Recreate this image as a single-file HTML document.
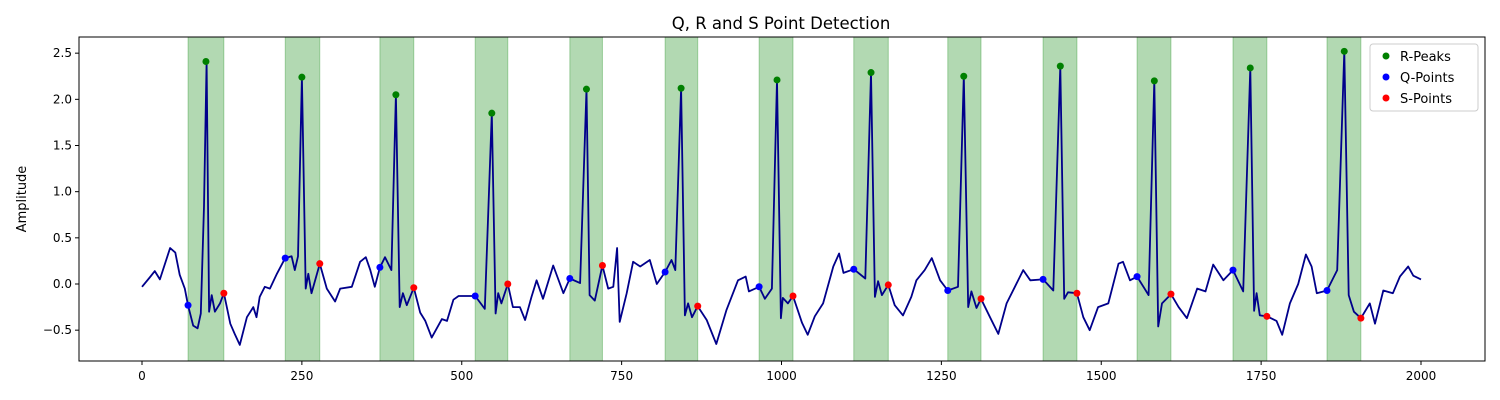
<!DOCTYPE html>
<html><head><meta charset="utf-8"><style>
body{margin:0;background:#fff;}
svg{display:block;font-family:"DejaVu Sans","Liberation Sans",sans-serif;}
</style></head><body>
<svg id="chart" width="1500" height="400" viewBox="0 0 1500 400">
<rect width="1500" height="400" fill="#fff"/>
<text x="781" y="29" text-anchor="middle" font-size="16.5">Q, R and S Point Detection</text>
<g id="bands"></g>
<g id="series"></g>
<rect x="79" y="37" width="1406" height="324" fill="none" stroke="#000" stroke-width="1"/>
<g id="xaxis"></g>
<g id="yaxis"></g>
<text transform="translate(26,199) rotate(-90)" text-anchor="middle" font-size="13">Amplitude</text>
<g>
<rect x="1370" y="44" width="108" height="67" rx="3" fill="#fff" fill-opacity="0.8" stroke="#ccc"/>
<circle cx="1386" cy="56" r="3.5" fill="green"/>
<text x="1400" y="61" font-size="13">R-Peaks</text>
<circle cx="1386" cy="77" r="3.5" fill="blue"/>
<text x="1400" y="82" font-size="13">Q-Points</text>
<circle cx="1386" cy="98" r="3.5" fill="red"/>
<text x="1400" y="103" font-size="13">S-Points</text>
</g>
</svg>
<script>
const xTicks=[0,250,500,750,1000,1250,1500,1750,2000];
const yTicks=[-0.5,0,0.5,1,1.5,2,2.5];
const yTickLabels=["−0.5","0.0","0.5","1.0","1.5","2.0","2.5"];
const rX=[100,250,397,547,695,843,993,1140,1285,1436,1583,1733,1880];
const rY=[2.41,2.24,2.05,1.85,2.11,2.12,2.21,2.29,2.25,2.36,2.2,2.34,2.52];
const qX=[72,224,372,521,669,818,965,1113,1260,1409,1556,1706,1853];
const qY=[-0.23,0.28,0.18,-0.13,0.06,0.13,-0.03,0.16,-0.07,0.05,0.08,0.15,-0.07];
const sX=[128,278,425,572,720,869,1018,1167,1312,1462,1609,1759,1906];
const sY=[-0.1,0.22,-0.04,0.0,0.2,-0.24,-0.13,-0.01,-0.16,-0.1,-0.11,-0.35,-0.37];
const sigX=[0,12,20,28,44,52,59,67,72,80,87,92,97,101,105,109,114,122,128,138,145,153,164,174,179,184,192,200,211,224,234,239,244,250,256,260,265,278,289,302,310,328,341,350,357,364,372,380,390,397,403,408,414,425,435,443,453,469,477,487,495,510,521,536,547,553,557,562,572,580,591,599,609,617,627,643,659,669,685,695,700,708,720,729,737,743,747,758,768,779,794,805,818,828,834,843,849,854,860,869,883,898,914,932,944,949,965,974,985,993,999,1002,1010,1018,1032,1041,1052,1065,1081,1090,1097,1113,1131,1140,1146,1151,1157,1167,1177,1190,1203,1211,1224,1235,1248,1260,1276,1285,1292,1297,1305,1312,1326,1339,1352,1365,1378,1389,1409,1425,1436,1442,1448,1462,1472,1482,1495,1511,1527,1534,1545,1556,1574,1583,1589,1595,1609,1621,1634,1650,1663,1675,1691,1706,1722,1733,1739,1743,1748,1759,1774,1783,1795,1808,1820,1829,1837,1853,1869,1880,1887,1895,1906,1920,1928,1941,1956,1967,1980,1988,2000];
const sigY=[-0.03,0.07,0.14,0.05,0.39,0.34,0.1,-0.05,-0.23,-0.45,-0.48,-0.32,0.84,2.41,-0.3,-0.12,-0.3,-0.21,-0.1,-0.43,-0.54,-0.66,-0.36,-0.25,-0.36,-0.14,-0.03,-0.05,0.11,0.28,0.3,0.15,0.3,2.24,-0.05,0.11,-0.1,0.22,-0.05,-0.19,-0.05,-0.03,0.24,0.29,0.15,-0.03,0.18,0.29,0.15,2.05,-0.25,-0.1,-0.23,-0.04,-0.31,-0.4,-0.58,-0.38,-0.4,-0.17,-0.13,-0.13,-0.13,-0.27,1.85,-0.32,-0.1,-0.21,0.0,-0.25,-0.25,-0.39,-0.14,0.04,-0.16,0.2,-0.1,0.06,0.01,2.11,-0.12,-0.18,0.2,-0.05,-0.03,0.39,-0.41,-0.1,0.24,0.19,0.26,0.0,0.13,0.26,0.15,2.12,-0.34,-0.21,-0.36,-0.24,-0.39,-0.65,-0.28,0.04,0.08,-0.08,-0.03,-0.16,-0.05,2.21,-0.37,-0.15,-0.21,-0.13,-0.42,-0.55,-0.35,-0.21,0.19,0.33,0.12,0.16,0.06,2.29,-0.14,0.03,-0.12,-0.01,-0.23,-0.34,-0.14,0.04,0.15,0.28,0.04,-0.07,-0.03,2.25,-0.25,-0.08,-0.26,-0.16,-0.36,-0.54,-0.21,-0.03,0.15,0.04,0.05,-0.07,2.36,-0.16,-0.09,-0.1,-0.36,-0.5,-0.25,-0.21,0.22,0.24,0.04,0.08,-0.12,2.2,-0.46,-0.21,-0.11,-0.25,-0.37,-0.05,-0.08,0.21,0.04,0.15,-0.08,2.34,-0.29,-0.1,-0.34,-0.35,-0.4,-0.55,-0.21,0.0,0.32,0.19,-0.1,-0.07,0.15,2.52,-0.12,-0.3,-0.37,-0.21,-0.43,-0.07,-0.1,0.08,0.19,0.09,0.05];

const NS='http://www.w3.org/2000/svg';
const X=v=>142+v*(1279/2000);
const Y=v=>284-v*(277/3);
function mk(t,a,p){const e=document.createElementNS(NS,t);for(const k in a)e.setAttribute(k,a[k]);p.appendChild(e);return e;}
const bands=document.getElementById('bands'),series=document.getElementById('series');
const xa=document.getElementById('xaxis'),ya=document.getElementById('yaxis');
for(let i=0;i<qX.length;i++){
  const b=mk('rect',{x:X(qX[i]),y:37,width:X(sX[i])-X(qX[i]),height:324,fill:'green','fill-opacity':0.3,stroke:'green','stroke-opacity':0.3},bands);
  
  
}
let d='';for(let i=0;i<sigX.length;i++)d+=(i?'L':'M')+X(sigX[i]).toFixed(1)+','+Y(sigY[i]).toFixed(1);
const ln=mk('path',{d:d,fill:'none',stroke:'#00008b','stroke-width':1.8,'stroke-linejoin':'round'},series);


function pts(xs,ys,c,n){for(let i=0;i<xs.length;i++){const p=mk('circle',{cx:X(xs[i]),cy:Y(ys[i]),r:3.5,fill:c},series);
  
  }}
pts(rX,rY,'green','r-peak-point');pts(qX,qY,'blue','q-point');pts(sX,sY,'red','s-point');
xTicks.forEach(t=>{mk('line',{x1:X(t),x2:X(t),y1:361,y2:365,stroke:'#000'},xa);
  const tx=mk('text',{x:X(t),y:380,'text-anchor':'middle','font-size':12},xa);tx.textContent=t;
  
  });
yTicks.forEach((t,i)=>{mk('line',{x1:75,x2:79,y1:Y(t),y2:Y(t),stroke:'#000'},ya);
  const tx=mk('text',{x:72,y:Y(t)+4,'text-anchor':'end','font-size':12},ya);tx.textContent=yTickLabels[i];
  
  });
</script>
</body></html>
